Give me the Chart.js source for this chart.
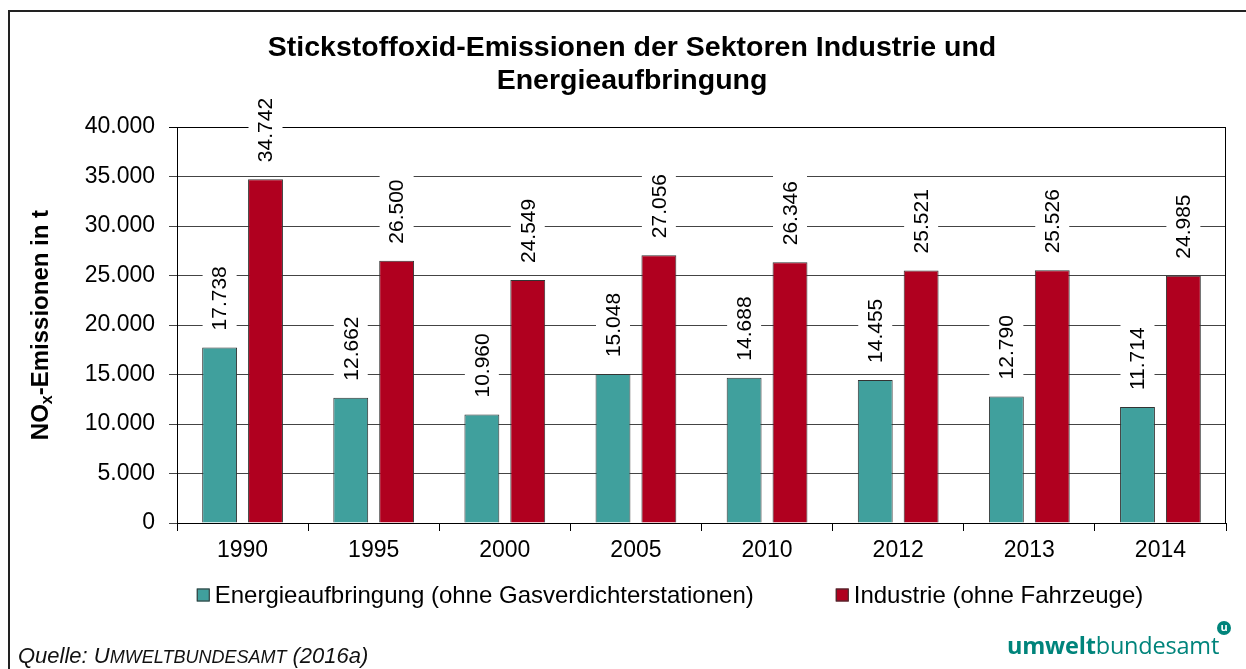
<!DOCTYPE html>
<html lang="de">
<head>
<meta charset="UTF-8">
<title>Stickstoffoxid-Emissionen</title>
<script src="https://cdn.jsdelivr.net/npm/chart.js"></script>
<style>
  body { margin: 0; width: 1246px; height: 669px; overflow: hidden; background: #fff; font-family: "Liberation Sans", Arial, sans-serif; }
  #frame { position: absolute; left: 8px; top: 10px; width: 1260px; height: 700px; border: 2px solid #222; border-right: none; border-bottom: none; }
  #wrap { position: absolute; left: 0; top: 0; width: 1246px; height: 669px; }
  #source { position: absolute; left: 18px; top: 643px; font-size: 22px; font-style: italic; color: #111; }
  #source .sc { font-size: 18px; }
  #logo { position: absolute; left: 1007px; top: 629px; font-family: "Open Sans", sans-serif; font-size: 23.5px; color: #00847b; letter-spacing: -0.2px; }
  #logo b { font-weight: 700; }
  #logo .mark { position: absolute; right: -12px; top: -8px; width: 14px; height: 14px; border-radius: 50%; background: #00847b; color: #fff; font-size: 11px; font-weight: 700; line-height: 12px; text-align: center; letter-spacing: 0; }
</style>
</head>
<body>
<div id="frame"></div>
<div id="wrap"><canvas id="chart" width="1246" height="669"></canvas></div>
<div id="source">Quelle: U<span class="sc">MWELTBUNDESAMT</span> (2016a)</div>
<div id="logo"><b>umwelt</b>bundesamt<span class="mark">u</span></div>
<script>
  const years = ['1990', '1995', '2000', '2005', '2010', '2012', '2013', '2014'];
  const energie = [17738, 12662, 10960, 15048, 14688, 14455, 12790, 11714];
  const industrie = [34742, 26500, 24549, 27056, 26346, 25521, 25526, 24985];
  const yTicks = [0, 5000, 10000, 15000, 20000, 25000, 30000, 35000, 40000];

  const fmt = v => String(v).replace(/\B(?=(\d{3})+(?!\d))/g, '.');
  const FONT = '"Liberation Sans", Arial, sans-serif';

  // value labels above bars, rotated, on a white box
  const valueLabels = {
    id: 'valueLabels',
    afterDatasetsDraw(chart) {
      const ctx = chart.ctx;
      ctx.save();
      ctx.font = '21px ' + FONT;
      chart.data.datasets.forEach((ds, i) => {
        chart.getDatasetMeta(i).data.forEach((bar, j) => {
          const txt = fmt(ds.data[j]);
          const w = ctx.measureText(txt).width;
          ctx.save();
          ctx.translate(bar.x, bar.y - 17);
          ctx.rotate(-Math.PI / 2);
          ctx.fillStyle = '#fff';
          ctx.fillRect(-6, -17, w + 12, 34);
          ctx.fillStyle = '#000';
          ctx.textAlign = 'left';
          ctx.textBaseline = 'middle';
          ctx.fillText(txt, 0, 1);
          ctx.restore();
        });
      });
      ctx.restore();
    }
  };

  // right frame of plot, y title with subscript, legend
  const extras = {
    id: 'extras',
    beforeDatasetsDraw(chart) {
      const {ctx, chartArea: a} = chart;
      ctx.save();
      ctx.strokeStyle = '#000';
      ctx.lineWidth = 1;
      ctx.beginPath();
      ctx.moveTo(Math.round(a.right) - 0.5, a.top);
      ctx.lineTo(Math.round(a.right) - 0.5, a.bottom);
      ctx.stroke();
      ctx.restore();
    },
    afterDraw(chart) {
      const {ctx, chartArea: a} = chart;
      ctx.save();
      // y axis title
      const big = 'bold 24px ' + FONT, small = 'bold 16px ' + FONT;
      ctx.font = big;
      const w1 = ctx.measureText('NO').width;
      const w3 = ctx.measureText('-Emissionen in t').width;
      ctx.font = small;
      const w2 = ctx.measureText('x').width;
      const total = w1 + w2 + w3;
      ctx.translate(41, (a.top + a.bottom) / 2);
      ctx.rotate(-Math.PI / 2);
      ctx.fillStyle = '#000';
      ctx.textBaseline = 'middle';
      ctx.textAlign = 'left';
      let x = -total / 2;
      ctx.font = big; ctx.fillText('NO', x, 0); x += w1;
      ctx.font = small; ctx.fillText('x', x, 7); x += w2;
      ctx.font = big; ctx.fillText('-Emissionen in t', x, 0);
      ctx.restore();

      // legend
      ctx.save();
      ctx.font = '24px ' + FONT;
      ctx.textBaseline = 'middle';
      const items = chart.data.datasets.map(ds => ({
        label: ds.label, color: ds.backgroundColor, w: 13 + 5 + ctx.measureText(ds.label).width
      }));
      const gap = 82;
      const full = items.reduce((s, it) => s + it.w, 0) + gap * (items.length - 1);
      let lx = 670 - full / 2;
      const ly = 595;
      items.forEach(it => {
        ctx.fillStyle = it.color;
        ctx.fillRect(lx, ly - 6.5, 13, 13);
        ctx.strokeStyle = '#333';
        ctx.lineWidth = 1;
        ctx.strokeRect(lx + 0.5, ly - 6, 12, 12);
        ctx.fillStyle = '#000';
        ctx.fillText(it.label, lx + 18, ly + 1);
        lx += it.w + gap;
      });
      ctx.restore();
    }
  };

  new Chart(document.getElementById('chart'), {
    type: 'bar',
    data: {
      labels: years,
      datasets: [
        {
          label: 'Energieaufbringung (ohne Gasverdichterstationen)',
          data: energie,
          backgroundColor: '#40a09d',
          borderColor: '#333',
          borderWidth: 1,
          categoryPercentage: 0.7,
          barPercentage: 0.76
        },
        {
          label: 'Industrie (ohne Fahrzeuge)',
          data: industrie,
          backgroundColor: '#b0001f',
          borderColor: '#333',
          borderWidth: 1,
          categoryPercentage: 0.7,
          barPercentage: 0.76
        }
      ]
    },
    options: {
      responsive: false,
      animation: false,
      layout: { padding: { left: 38, right: 20, top: 0, bottom: 0 } },
      plugins: {
        legend: { display: false },
        tooltip: { enabled: false },
        title: {
          display: true,
          text: ['Stickstoffoxid-Emissionen der Sektoren Industrie und', 'Energieaufbringung'],
          color: '#000',
          font: { family: FONT, size: 28.5, weight: 'bold', lineHeight: 1.16 },
          padding: { top: 32, bottom: 29 }
        }
      },
      scales: {
        x: {
          grid: { display: true, drawOnChartArea: false, offset: true, tickLength: 8, color: '#000' },
          border: { color: '#000', width: 1 },
          ticks: { color: '#000', font: { family: FONT, size: 23 }, padding: 6 },
          afterFit(s) { s.height = 146; }
        },
        y: {
          min: 0,
          max: 40000,
          afterBuildTicks(s) { s.ticks = yTicks.map(v => ({ value: v })); },
          grid: { color: c => c.tick && c.tick.value === 40000 ? '#000' : '#444', tickLength: 8, lineWidth: 1 },
          border: { color: '#000', width: 1 },
          ticks: { color: '#000', font: { family: FONT, size: 23 }, padding: 14, callback: v => fmt(v) },
          afterFit(s) { s.width = 139; }
        }
      }
    },
    plugins: [valueLabels, extras]
  });
</script>
</body>
</html>
